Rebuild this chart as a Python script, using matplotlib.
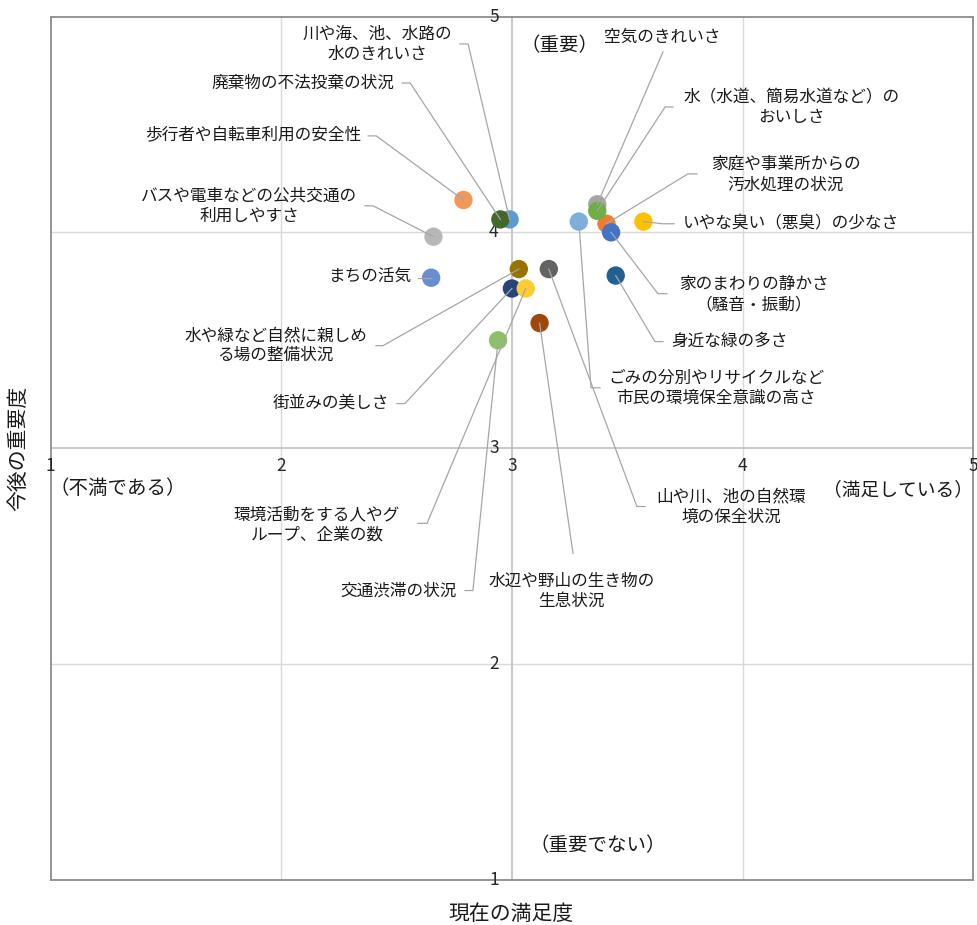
import matplotlib
matplotlib.use("Agg")
import matplotlib.pyplot as plt

plt.rcParams['font.family'] = ['Noto Sans CJK JP', 'DejaVu Sans']

# items: current satisfaction (x) and future importance (y)
items = [
    "家庭や事業所からの\n汚水処理の状況",
    "家のまわりの静かさ\n（騒音・振動）",
    "空気のきれいさ",
    "いやな臭い（悪臭）の少なさ",
    "川や海、池、水路の\n水のきれいさ",
    "水（水道、簡易水道など）の\nおいしさ",
    "街並みの美しさ",
    "水辺や野山の生き物の\n生息状況",
    "山や川、池の自然環\n境の保全状況",
    "水や緑など自然に親しめ\nる場の整備状況",
    "身近な緑の多さ",
    "廃棄物の不法投棄の状況",
    "まちの活気",
    "歩行者や自転車利用の安全性",
    "バスや電車などの公共交通の\n利用しやすさ",
    "環境活動をする人やグ\nループ、企業の数",
    "ごみの分別やリサイクルなど\n市民の環境保全意識の高さ",
    "交通渋滞の状況",
]
satisfaction = [3.41, 3.43, 3.37, 3.57, 2.99, 3.37, 3.00, 3.12, 3.16, 3.03,
                3.45, 2.95, 2.65, 2.79, 2.66, 3.06, 3.29, 2.94]
importance = [4.04, 4.00, 4.13, 4.05, 4.06, 4.10, 3.74, 3.58, 3.83, 3.83,
              3.80, 4.06, 3.79, 4.15, 3.98, 3.74, 4.05, 3.50]
colors = ['#ed7d31', '#4472c4', '#a5a5a5', '#ffc000', '#5b9bd5', '#70ad47',
          '#264478', '#9e480e', '#636363', '#997300', '#255e91', '#43682b',
          '#698ed0', '#f1975a', '#b7b7b7', '#ffcd33', '#7cafdd', '#8cc168']

# label layout: (x, y, ha, leader points from label towards the marker)
layout = [
    (3.863, 4.267, 'left', [(3.802, 4.271), (3.763, 4.271)]),
    (3.724, 3.711, 'left', [(3.672, 3.716), (3.633, 3.716)]),
    (3.399, 4.901, 'left', [(3.655, 4.836)]),
    (3.742, 4.040, 'left', [(3.703, 4.040), (3.651, 4.040)]),
    (2.740, 4.870, 'right', [(2.775, 4.873), (2.810, 4.873)]),
    (3.742, 4.577, 'left', [(3.698, 4.581), (3.664, 4.581)]),
    (2.467, 3.207, 'right', [(2.502, 3.207), (2.536, 3.207)]),
    (3.260, 2.337, 'center', [(3.265, 2.513)]),
    (3.625, 2.726, 'left', [(3.577, 2.730), (3.542, 2.730)]),
    (2.372, 3.475, 'right', [(2.411, 3.475), (2.441, 3.475)]),
    (3.690, 3.494, 'left', [(3.655, 3.494), (3.620, 3.494)]),
    (2.489, 4.692, 'right', [(2.524, 4.692), (2.559, 4.692)]),
    (2.567, 3.790, 'right', [(2.593, 3.790)]),
    (2.346, 4.447, 'right', [(2.377, 4.447), (2.412, 4.447)]),
    (2.329, 4.123, 'right', [(2.363, 4.123), (2.398, 4.123)]),
    (2.515, 2.647, 'right', [(2.593, 2.652), (2.632, 2.652)]),
    (3.417, 3.276, 'left', [(3.382, 3.280), (3.343, 3.280)]),
    (2.762, 2.337, 'right', [(2.797, 2.341), (2.831, 2.341)]),
]

ticks = [1, 2, 3, 4, 5]

fig = plt.figure(figsize=(9.77, 9.25), dpi=100)
ax = fig.add_axes([50.5 / 977, 45 / 925, 922.8 / 977, 863.5 / 925])
ax.set_xlim(1, 5)
ax.set_ylim(1, 5)
ax.set_xticks([])
ax.set_yticks([])
for sp in ax.spines.values():
    sp.set_color('#8c8c8c')
    sp.set_linewidth(1.3)

# grid and the crossing axes at 3
for v in (2, 4):
    ax.axvline(v, color='#d9d9d9', lw=1.0, zorder=0)
    ax.axhline(v, color='#d9d9d9', lw=1.0, zorder=0)
ax.axvline(3, color='#c0c0c0', lw=1.2, zorder=0.5)
ax.axhline(3, color='#c0c0c0', lw=1.2, zorder=0.5)

for t in ticks:
    ax.annotate(str(t), (3, t), xytext=(-9.5, 0), textcoords='offset points',
                ha='right', va='center', fontsize=12.5, color='#262626',
                annotation_clip=False)
    ax.annotate(str(t), (t, 3), xytext=(0, -13), textcoords='offset points',
                ha='center', va='center', fontsize=12.5, color='#262626',
                annotation_clip=False)

ax.scatter(satisfaction, importance, s=175, c=colors, edgecolors='none',
           zorder=3)

for name, x, y, (lx, ly, ha, lead) in zip(items, satisfaction, importance, layout):
    ax.text(lx, ly, name, ha=ha, va='center', multialignment='center',
            fontsize=12, color='#1a1a1a', linespacing=1.25, zorder=5)
    xs = [p[0] for p in lead] + [x]
    ys = [p[1] for p in lead] + [y]
    ax.plot(xs, ys, color='#a6a6a6', lw=0.9, zorder=4)

quad = dict(fontsize=14, color='#1a1a1a', ha='center', va='center')
ax.text(3.208, 4.863, '（重要）', **quad)
ax.text(3.373, 1.157, '（重要でない）', **quad)
ax.text(1.293, 2.814, '（不満である）', **quad)
ax.text(4.675, 2.809, '（満足している）', fontsize=13.5, color='#1a1a1a',
        ha='center', va='center')

fig.text(511 / 977, 1 - 914 / 925, '現在の満足度', ha='center', va='center',
         fontsize=15, color='#1a1a1a')
fig.text(18 / 977, 1 - 448 / 925, '今後の重要度', ha='center', va='center',
         rotation=90, fontsize=15, color='#1a1a1a')

fig.savefig('out.png', dpi=100)
